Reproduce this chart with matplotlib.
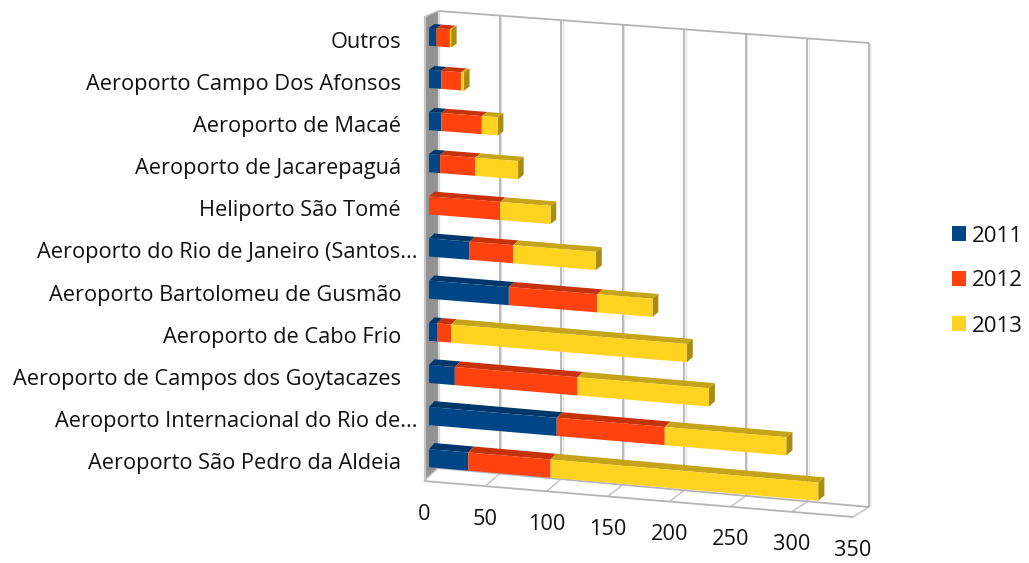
import numpy as np
import matplotlib
matplotlib.use("Agg")
import matplotlib.pyplot as plt
import matplotlib.transforms as mtransforms
from matplotlib.collections import PolyCollection

# bottom to top, same as the chart
airports = [
    "Aeroporto São Pedro da Aldeia",
    "Aeroporto Internacional do Rio de...",
    "Aeroporto de Campos dos Goytacazes",
    "Aeroporto de Cabo Frio",
    "Aeroporto Bartolomeu de Gusmão",
    "Aeroporto do Rio de Janeiro (Santos...",
    "Heliporto São Tomé",
    "Aeroporto de Jacarepaguá",
    "Aeroporto de Macaé",
    "Aeroporto Campo Dos Afonsos",
    "Outros",
]
years = ["2011", "2012", "2013"]
values_2011 = [32, 104, 21, 6.5, 65, 33, 0, 9, 10, 10, 6]
values_2012 = [67, 88, 100, 11.5, 72, 35.5, 58, 28.5, 33, 16, 11]
values_2013 = [218, 99, 107, 192, 45, 67.5, 41, 35, 13, 2.5, 1]
value_ticks = [0, 50, 100, 150, 200, 250, 300, 350]

# front face, top face, side face per series
front_colors = ["#004586", "#ff420e", "#ffd320"]
top_colors = ["#00366a", "#c6330b", "#c6a419"]
side_color = "#a88c14"

WIDTH, HEIGHT = 1029, 563
V_MAX = 350
C_LOW, C_HIGH = -0.43, 10.52
BAR_H = 0.43
D_FRONT, D_BACK = 0.36, 0.75
BAR_LIFT = 1.2  # the bar tops look a bit deeper than the box does up here

# box corners in image pixels: [depth][category end][value end]
corners = np.array([
    [[(424, 481), (853, 517)], [(424, 17), (853, 49)]],
    [[(438, 468), (869, 507)], [(438, 11), (869, 43)]],
], dtype=float)


def project(v, c, d):
    """value, category, depth -> image pixels (trilinear in the 3d box)"""
    u = np.asarray(v, dtype=float) / V_MAX
    w = (np.asarray(c, dtype=float) - C_LOW) / (C_HIGH - C_LOW)
    d = np.asarray(d, dtype=float)
    out = []
    for k in range(2):
        low = corners[0, 0, 0, k] * (1 - u) + corners[0, 0, 1, k] * u
        high = corners[0, 1, 0, k] * (1 - u) + corners[0, 1, 1, k] * u
        front = low * (1 - w) + high * w
        low = corners[1, 0, 0, k] * (1 - u) + corners[1, 0, 1, k] * u
        high = corners[1, 1, 0, k] * (1 - u) + corners[1, 1, 1, k] * u
        back = low * (1 - w) + high * w
        out.append(front * (1 - d) + back * d)
    return np.stack(out, axis=-1)


def bar_back(v, c):
    return project(v, c, D_BACK) + [0, -BAR_LIFT]


class DepthPlane(mtransforms.Transform):
    """(value, category) at a fixed depth -> display coordinates"""
    input_dims = 2
    output_dims = 2
    is_separable = False
    has_inverse = False

    def __init__(self, plane_depth):
        super().__init__()
        self.plane_depth = plane_depth

    def transform_non_affine(self, values):
        values = np.asarray(values, dtype=float)
        xy = project(values[:, 0], values[:, 1], self.plane_depth)
        xy[:, 1] = HEIGHT - xy[:, 1]
        return xy


pixels = mtransforms.Affine2D().scale(1, -1).translate(0, HEIGHT)
front_plane = DepthPlane(D_FRONT)
floor_front = DepthPlane(0)

plt.rcParams["font.family"] = ["Open Sans", "DejaVu Sans"]
fig = plt.figure(figsize=(WIDTH / 100, HEIGHT / 100), dpi=100, facecolor="white")
ax = fig.add_axes([0, 0, 1, 1])
ax.set_axis_off()

grid_color = "#b4b4b4"


def box_line(p, q, color=grid_color, lw=1.3, z=1.5):
    ax.plot([p[0], q[0]], [p[1], q[1]], color=color, lw=lw, transform=pixels,
            clip_on=False, solid_capstyle="butt", zorder=z)


# left wall
wall = [project(0, C_LOW, 0), project(0, C_HIGH, 0), project(0, C_HIGH, 1), project(0, C_LOW, 1)]
ax.add_collection(PolyCollection([wall], facecolors="#929292", edgecolors="none",
                                 transform=pixels, zorder=1), autolim=False)
box_line(project(0, C_LOW, 0) + [1, 0], project(0, C_HIGH, 0) + [1, 0], "#c4c4c4", 1.6)
box_line(project(0, C_LOW, 1) + [1, 0], project(0, C_HIGH, 1) + [1, 0], "#d8d8d8", 1.6)

# back wall grid + floor
for v in value_ticks[1:]:
    box_line(project(v, C_LOW, 1) + [1.4, 0], project(v, C_HIGH, 1) + [1.4, 0], "#e4e4e4", 1.0, 1.2)
    box_line(project(v, C_LOW, 1), project(v, C_HIGH, 1))
    box_line(project(v, C_LOW, 1), project(v, C_LOW, 0), "#c4c4c4", 1.1)
box_line(project(0, C_HIGH, 1), project(V_MAX, C_HIGH, 1))
box_line(project(0, C_LOW, 1), project(V_MAX, C_LOW, 1))
box_line(project(0, C_LOW, 0), project(V_MAX, C_LOW, 0))
box_line(project(0, C_LOW, 0), project(0, C_LOW, 1), "#c4c4c4", 1.1)
box_line(project(0, C_HIGH, 0), project(0, C_HIGH, 1), "#c4c4c4", 1.1)

# stacked bars, front faces through the projected plane
series = [np.array(values_2011), np.array(values_2012), np.array(values_2013)]
positions = np.arange(len(airports))
lefts = np.zeros(len(airports))
handles = []
top_faces, top_fc = [], []
for vals, year, fc, tc in zip(series, years, front_colors, top_colors):
    bars = ax.barh(positions, vals, left=lefts, height=BAR_H, color=fc, label=year,
                   transform=front_plane, clip_on=False, zorder=4)
    handles.append(bars)
    for c, a, val in zip(positions, lefts, vals):
        if val <= 0:
            continue
        ct = c + BAR_H / 2
        top_faces.append([project(a, ct, D_FRONT), project(a + val, ct, D_FRONT),
                          bar_back(a + val, ct), bar_back(a, ct)])
        top_fc.append(tc)
    lefts = lefts + vals

ax.add_collection(PolyCollection(top_faces, facecolors=top_fc, edgecolors="none",
                                 transform=pixels, zorder=3), autolim=False)
side_faces = []
for c, end in zip(positions, lefts):
    ct, cb = c + BAR_H / 2, c - BAR_H / 2
    side_faces.append([project(end, ct, D_FRONT), project(end, cb, D_FRONT),
                       bar_back(end, cb), bar_back(end, ct)])
ax.add_collection(PolyCollection(side_faces, facecolors=side_color, edgecolors="none",
                                 transform=pixels, zorder=3), autolim=False)

# category labels sit left of the bars, the truncated ones run a bit longer
for c, name in zip(positions, airports):
    shift = -12 if name.endswith("...") else -28
    ax.annotate(name, xy=(0, c), xycoords=front_plane, xytext=(shift * 0.72, -5.5 * 0.72),
                textcoords="offset points", ha="right", va="center",
                fontsize=15.7, color="#111111", annotation_clip=False)

# value labels under the front floor edge
for v in value_ticks:
    ax.annotate(str(v), xy=(v, C_LOW), xycoords=floor_front, xytext=(0, -33 * 0.72),
                textcoords="offset points", ha="center", va="center",
                fontsize=15.7, color="#111111", annotation_clip=False)

ax.legend(handles=handles, labels=years, loc="center left", frameon=False,
          bbox_to_anchor=(952 / WIDTH, 1 - 281 / HEIGHT), bbox_transform=fig.transFigure,
          fontsize=16, handlelength=0.63, handleheight=0.63, handletextpad=0.27,
          labelspacing=1.08, borderpad=0, borderaxespad=0, labelcolor="#111111")

ax.set_xlim(0, V_MAX)
ax.set_ylim(C_LOW, C_HIGH)

fig.savefig("out.png", dpi=100, facecolor="white")
